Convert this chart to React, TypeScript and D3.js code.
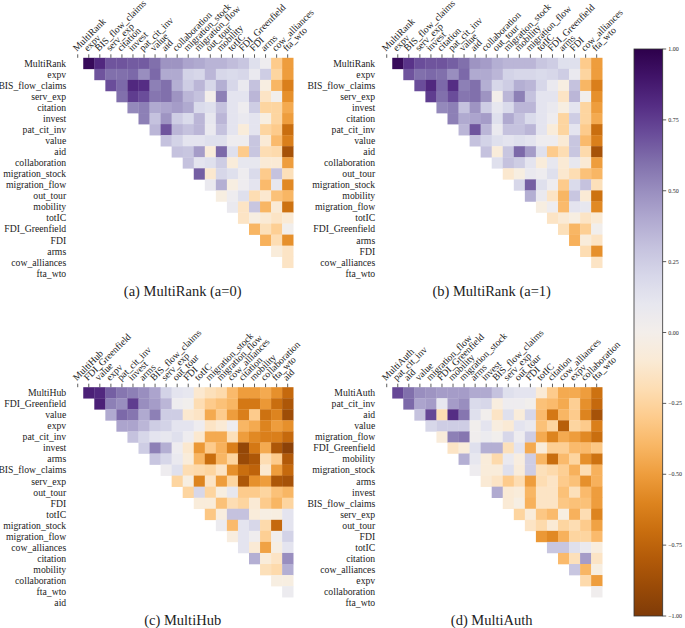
import * as d3 from "d3"

// ---- data ----
// each corr row i holds the correlations with columns i+1..19 (upper triangle, no diagonal)

const varsA = ["MultiRank", "expv", "BIS_flow_claims", "serv_exp", "citation", "invest", "pat_cit_inv", "value", "aid", "collaboration", "migration_stock", "migration_flow", "out_tour", "mobility", "totIC", "FDI_Greenfield", "FDI", "arms", "cow_alliances", "fta_wto"]
const corrA = [
  [0.95, 0.82, 0.68, 0.68, 0.66, 0.66, 0.6, 0.48, 0.48, 0.42, 0.4, 0.36, 0.36, 0.32, 0.28, 0.15, 0.05, -0.3, -0.5],
  [0.68, 0.6, 0.6, 0.62, 0.5, 0.62, 0.4, 0.4, 0.22, 0.2, 0.35, 0.2, 0.18, 0.2, 0.08, 0.25, -0.25, -0.5],
  [0.7, 0.62, 0.82, 0.8, 0.55, 0.6, 0.38, 0.25, 0.35, 0.2, 0.38, 0.2, 0.08, 0.3, -0.05, -0.4, -0.62],
  [0.6, 0.75, 0.7, 0.58, 0.6, 0.48, 0.35, 0.3, 0.0, 0.55, 0.12, 0.12, 0.35, -0.15, 0.02, -0.55],
  [0.52, 0.55, 0.4, 0.42, 0.45, 0.4, 0.18, 0.15, 0.3, 0.12, 0.05, 0.25, -0.25, -0.25, -0.45],
  [0.55, 0.3, 0.48, 0.25, 0.18, 0.35, 0.1, 0.35, 0.12, 0.08, 0.12, -0.05, -0.25, -0.5],
  [0.35, 0.68, 0.35, 0.3, 0.35, 0.08, 0.3, 0.12, -0.08, 0.12, -0.25, -0.3, -0.7],
  [0.3, 0.22, 0.12, 0.12, 0.15, 0.15, 0.05, 0.05, 0.28, -0.1, -0.38, -0.62],
  [0.3, 0.28, 0.45, -0.08, 0.62, 0.15, -0.3, 0.28, -0.2, -0.22, -0.85],
  [0.3, 0.12, 0.15, 0.25, -0.08, 0.1, 0.1, -0.1, -0.1, -0.5],
  [0.65, -0.12, 0.2, 0.15, 0.05, 0.18, -0.3, 0.3, -0.18],
  [0.08, 0.38, -0.05, 0.05, 0.12, -0.38, 0.1, -0.58],
  [-0.05, 0.05, 0.15, -0.2, -0.12, -0.35, -0.4],
  [0.08, -0.15, 0.28, -0.4, -0.1, -0.68],
  [-0.15, -0.05, -0.1, -0.15, -0.1],
  [-0.4, -0.18, -0.28, 0.02],
  [-0.42, -0.2, -0.55],
  [-0.08, -0.15],
  [-0.15],
]

// panel b: same indicators as a, other order; only the MultiRank row differs
const varsB = ["MultiRank", "expv", "BIS_flow_claims", "serv_exp", "invest", "citation", "pat_cit_inv", "value", "aid", "collaboration", "out_tour", "migration_stock", "mobility", "migration_flow", "totIC", "FDI_Greenfield", "arms", "FDI", "cow_alliances", "fta_wto"]
const multiRankB = [0.95, 0.78, 0.7, 0.68, 0.68, 0.65, 0.6, 0.48, 0.45, 0.38, 0.35, 0.35, 0.35, 0.28, 0.25, 0.15, 0.15, -0.3, -0.5]

const varsC = ["MultiHub", "FDI_Greenfield", "value", "expv", "pat_cit_inv", "invest", "arms", "BIS_flow_claims", "serv_exp", "out_tour", "FDI", "totIC", "migration_stock", "migration_flow", "cow_alliances", "citation", "mobility", "collaboration", "fta_wto", "aid"]
const corrC = [
  [0.85, 0.82, 0.65, 0.58, 0.55, 0.5, 0.42, 0.22, 0.12, 0.1, -0.12, -0.18, -0.22, -0.38, -0.5, -0.5, -0.45, -0.55, -0.72],
  [0.85, 0.55, 0.5, 0.75, 0.5, 0.45, 0.35, 0.05, 0.02, -0.2, -0.3, -0.35, -0.4, -0.65, -0.65, -0.52, -0.7, -0.82],
  [0.4, 0.62, 0.58, 0.4, 0.55, 0.25, 0.25, -0.12, -0.15, -0.45, -0.3, -0.5, -0.62, -0.3, -0.68, -0.6, -0.88],
  [0.42, 0.42, 0.35, 0.25, 0.22, 0.12, 0.12, 0.05, -0.15, -0.1, 0.05, -0.4, -0.45, -0.6, -0.5, -0.55],
  [0.3, 0.2, 0.12, 0.1, 0.15, 0.05, -0.12, -0.45, -0.45, -0.18, -0.5, -0.58, -0.62, -0.62, -0.72],
  [0.25, 0.55, 0.38, 0.05, -0.12, -0.52, -0.3, -0.42, -0.62, -0.92, -0.65, -0.45, -0.82, -0.95],
  [0.28, 0.2, 0.08, -0.08, -0.4, -0.7, -0.4, -0.25, -0.9, -0.82, -0.2, -0.3, -0.8],
  [0.05, 0.15, -0.2, -0.22, -0.25, -0.15, -0.55, -0.7, -0.75, -0.12, -0.5, -0.72],
  [-0.25, -0.05, -0.6, -0.15, -0.5, -0.25, -0.82, -0.55, -0.5, -0.82, -0.85],
  [-0.25, 0.2, -0.25, -0.05, 0.1, -0.3, -0.3, -0.25, -0.35, -0.4],
  [-0.08, -0.08, -0.35, -0.2, -0.25, -0.1, -0.3, -0.4, -0.25],
  [-0.32, -0.06, 0.3, 0.3, -0.08, -0.04, -0.05, 0.12],
  [0.06, -0.38, 0.12, 0.2, -0.22, -0.72, 0.12],
  [-0.06, 0.12, 0.04, -0.28, 0.02, 0.22],
  [0.12, -0.1, -0.48, -0.04, 0.12],
  [0.38, -0.08, -0.15, 0.5],
  [-0.18, -0.22, 0.38],
  [-0.05, -0.05],
  [0.06],
]

const varsD = ["MultiAuth", "pat_cit_inv", "aid", "value", "migration_flow", "FDI_Greenfield", "mobility", "migration_stock", "arms", "invest", "BIS_flow_claims", "serv_exp", "out_tour", "FDI", "totIC", "citation", "cow_alliances", "expv", "collaboration", "fta_wto"]
const corrD = [
  [0.72, 0.6, 0.5, 0.48, 0.45, 0.45, 0.45, 0.4, 0.4, 0.3, 0.15, 0.12, 0.12, -0.1, -0.3, -0.45, -0.45, -0.5, -0.68],
  [0.62, 0.42, 0.45, 0.1, 0.45, 0.5, 0.18, 0.2, -0.06, 0.05, 0.05, 0.02, -0.35, -0.38, -0.45, -0.28, -0.55, -0.72],
  [0.3, 0.72, -0.2, 0.8, 0.58, 0.15, 0.02, -0.15, 0.15, -0.08, 0.2, -0.38, -0.65, -0.4, -0.3, -0.6, -0.85],
  [0.2, 0.25, 0.25, 0.25, 0.02, 0.12, -0.06, -0.1, 0.12, 0.08, -0.35, -0.25, -0.78, -0.25, -0.3, -0.62],
  [-0.08, 0.55, 0.58, 0.03, 0.06, 0.02, 0.2, 0.05, 0.25, -0.45, -0.6, -0.45, -0.5, -0.58, -0.7],
  [-0.15, -0.08, 0.15, 0.38, 0.38, -0.18, 0.12, -0.45, -0.08, -0.28, -0.28, -0.38, -0.38, -0.32],
  [0.38, 0.1, -0.08, -0.22, 0.08, -0.06, 0.25, -0.4, -0.7, -0.38, -0.25, -0.55, -0.68],
  [0.05, -0.08, -0.08, 0.15, -0.08, 0.25, -0.18, -0.22, -0.28, -0.42, -0.2, -0.42],
  [-0.1, -0.15, -0.3, -0.2, -0.5, -0.2, -0.15, -0.3, -0.35, -0.55, -0.42],
  [0.4, -0.1, -0.08, -0.4, -0.15, -0.15, -0.35, -0.18, -0.38, -0.5],
  [-0.1, -0.04, -0.42, -0.15, -0.15, -0.32, -0.35, -0.35, -0.5],
  [-0.25, -0.08, -0.32, -0.38, -0.05, -0.42, -0.2, -0.6],
  [-0.15, -0.22, -0.1, -0.25, -0.2, -0.3, -0.48],
  [-0.52, -0.58, -0.42, -0.25, -0.25, -0.38],
  [0.28, 0.28, 0.15, 0.08, -0.06],
  [-0.38, -0.18, 0.45, -0.15],
  [0.28, -0.4, -0.05],
  [-0.22, -0.5],
  [0.03],
]

const cbTicks = [1, 0.75, 0.5, 0.25, 0, -0.25, -0.5, -0.75, -1]

// ---- helpers ----
type Cell = { r: string; c: string; v: number }

function cellsFrom(vars: string[], corr: number[][]): Cell[] {
  const out: Cell[] = []
  corr.forEach((row, i) => row.forEach((v, k) => out.push({ r: vars[i], c: vars[i + 1 + k], v })))
  return out
}

// reorder panel a's matrix into panel b's order
function cellsB(): Cell[] {
  const look = new Map<string, number>()
  cellsFrom(varsA, corrA).forEach((d) => {
    look.set(d.r + "|" + d.c, d.v)
    look.set(d.c + "|" + d.r, d.v)
  })
  const out: Cell[] = []
  for (let i = 0; i < varsB.length; i++)
    for (let j = i + 1; j < varsB.length; j++) {
      const v = i === 0 ? multiRankB[j - 1] : look.get(varsB[i] + "|" + varsB[j]) ?? 0
      out.push({ r: varsB[i], c: varsB[j], v })
    }
  return out
}

// +1 purple, -1 orange (d3's PuOr runs the other way)
const color = (v: number) => d3.interpolatePuOr((1 - v) / 2)

const CELL = 11.05
const FONT = "'Liberation Serif', 'DejaVu Serif', serif"
const LABEL = 9.7

function Heatmap({ vars, cells, x0, y0, caption }: { vars: string[]; cells: Cell[]; x0: number; y0: number; caption: string }) {
  const n = vars.length
  const x = d3.scaleBand<string>().domain(vars).range([x0, x0 + n * CELL])
  const y = d3.scaleBand<string>().domain(vars).range([y0, y0 + n * CELL])
  const bw = x.bandwidth()
  return (
    <g>
      {cells.map((d) => (
        <rect key={d.r + d.c} x={x(d.c)!} y={y(d.r)!} width={bw + 0.3} height={y.bandwidth() + 0.3} fill={color(d.v)} />
      ))}
      {vars.map((v) => {
        const cx = x(v)! + bw / 2
        return (
          <g key={"c" + v}>
            <line x1={cx} x2={cx} y1={y0 - 3.5} y2={y0} stroke="#333" strokeWidth={0.8} />
            <text transform={`translate(${cx - 1},${y0 - 6}) rotate(-45)`} fontSize={LABEL} fontFamily={FONT} fill="#222">
              {v}
            </text>
          </g>
        )
      })}
      {vars.map((v) => (
        <text key={"r" + v} x={x0 - 6} y={y(v)! + y.bandwidth() / 2} dy="0.35em" textAnchor="end" fontSize={LABEL} fontFamily={FONT} fill="#222">
          {v}
        </text>
      ))}
      <text x={x0 + (n * CELL) / 2} y={y0 + n * CELL + 17} textAnchor="middle" fontSize={14.5} fontFamily={FONT} fill="#222">
        {caption}
      </text>
    </g>
  )
}

function Colorbar() {
  const x0 = 634
  const w = 28.7
  const yS = d3.scaleLinear().domain([-1, 1]).range([616, 49])
  const stops = d3.range(0, 1.0001, 0.05)
  return (
    <g>
      <defs>
        <linearGradient id="cb" x1="0" y1="1" x2="0" y2="0">
          {stops.map((t) => (
            <stop key={t} offset={t} stopColor={d3.interpolatePuOr(1 - t)} />
          ))}
        </linearGradient>
      </defs>
      <rect x={x0} y={yS(1)} width={w} height={yS(-1) - yS(1)} fill="url(#cb)" stroke="#333" strokeWidth={0.8} />
      {cbTicks.map((t) => (
        <g key={t}>
          <line x1={x0 + w} x2={x0 + w + 3.5} y1={yS(t)} y2={yS(t)} stroke="#333" strokeWidth={0.8} />
          <text x={x0 + w + 5.5} y={yS(t)} dy="0.35em" fontSize={6} fontFamily={FONT} fill="#222">
            {d3.format(".2f")(t)}
          </text>
        </g>
      ))}
    </g>
  )
}

export default function App() {
  return (
    <svg width={685} height={628} style={{ position: "absolute", left: 0, top: 0, background: "#fff" }}>
      <Heatmap vars={varsA} cells={cellsFrom(varsA, corrA)} x0={72.2} y0={57.8} caption="(a) MultiRank (a=0)" />
      <Heatmap vars={varsB} cells={cellsB()} x0={381.2} y0={57.8} caption="(b) MultiRank (a=1)" />
      <Heatmap vars={varsC} cells={cellsFrom(varsC, corrC)} x0={72.2} y0={387.2} caption="(c) MultiHub" />
      <Heatmap vars={varsD} cells={cellsFrom(varsD, corrD)} x0={381.2} y0={387.2} caption="(d) MultiAuth" />
      <Colorbar />
    </svg>
  )
}
